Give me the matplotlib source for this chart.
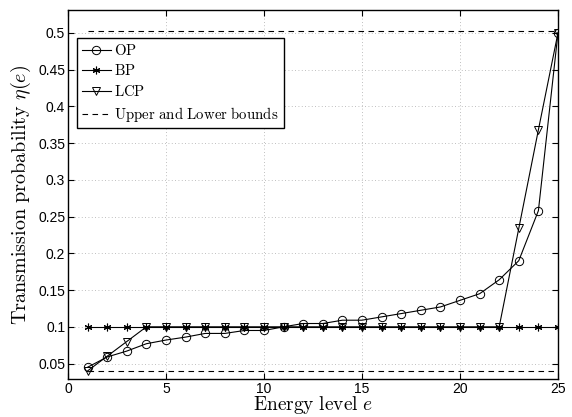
import matplotlib
matplotlib.use("Agg")
import matplotlib.pyplot as plt
import numpy as np

plt.rcParams['mathtext.fontset'] = 'cm'
plt.rcParams['font.family'] = ['Liberation Sans', 'DejaVu Sans']

energy = list(range(1, 26))
op = [0.045, 0.059, 0.067, 0.077, 0.082, 0.086, 0.091, 0.091, 0.095, 0.095,
      0.100, 0.1045, 0.1045, 0.109, 0.109, 0.1135, 0.118, 0.1225, 0.127, 0.136,
      0.145, 0.164, 0.190, 0.258, 0.500]
bp = [0.1] * 25
lcp = [0.040, 0.060, 0.080] + [0.1] * 19 + [0.234, 0.368, 0.500]
upper_bound = 0.502
lower_bound = 0.040

xticks = [0, 5, 10, 15, 20, 25]
yticks = [0.05, 0.1, 0.15, 0.2, 0.25, 0.3, 0.35, 0.4, 0.45, 0.5]
ytick_labels = ['0.05', '0.1', '0.15', '0.2', '0.25', '0.3', '0.35', '0.4', '0.45', '0.5']

fig = plt.figure(figsize=(5.72, 4.17), dpi=100)
ax = fig.add_axes([68/572, 1 - 379/417, 490/572, 369/417])

lw = 0.8
ax.plot(energy, op, '-o', color='black', lw=lw, mfc='none', mec='black', ms=6, mew=0.7,
        label=r'$\mathrm{OP}$')
ax.plot(energy, bp, '-', marker=(6, 2, 0), color='black', lw=lw, ms=5.5, mew=0.8,
        label=r'$\mathrm{BP}$')
ax.plot(energy, lcp, '-v', color='black', lw=lw, mfc='none', mec='black', ms=5.5, mew=0.7,
        label=r'$\mathrm{LCP}$')
ax.plot([energy[0], energy[-1]], [upper_bound, upper_bound], '--', color='black', lw=lw,
        dashes=(5, 4), label=r'$\mathrm{Upper\ and\ Lower\ bounds}$')
ax.plot([energy[0], energy[-1]], [lower_bound, lower_bound], '--', color='black', lw=lw,
        dashes=(5, 4))

ax.set_xlim(0, 25)
ax.set_ylim(0.029, 0.531)
ax.set_xticks(xticks)
ax.set_yticks(yticks)
ax.set_yticklabels(ytick_labels)
ax.tick_params(direction='in', top=True, right=True, labelsize=10, length=4, width=0.8)
ax.tick_params(axis='x', pad=2)
ax.tick_params(axis='y', pad=2)
ax.grid(True, linestyle=(0, (1, 3)), color='#aaaaaa', lw=0.6)
for s in ax.spines.values():
    s.set_linewidth(1.0)

ax.set_xlabel(r'$\mathrm{Energy\ level}\ e$', fontsize=14, labelpad=-1)
ax.set_ylabel(r'$\mathrm{Transmission\ probability}\ \eta(e)$', fontsize=14.5, labelpad=4)

leg = ax.legend(loc='upper left', bbox_to_anchor=(0.018, 0.924), fontsize=10.7,
                fancybox=False, framealpha=1, edgecolor='black', handlelength=2.0,
                borderpad=0.32, labelspacing=0.38, handletextpad=0.2, borderaxespad=0)
leg.get_frame().set_linewidth(1.0)

fig.savefig('out.png', dpi=100)
